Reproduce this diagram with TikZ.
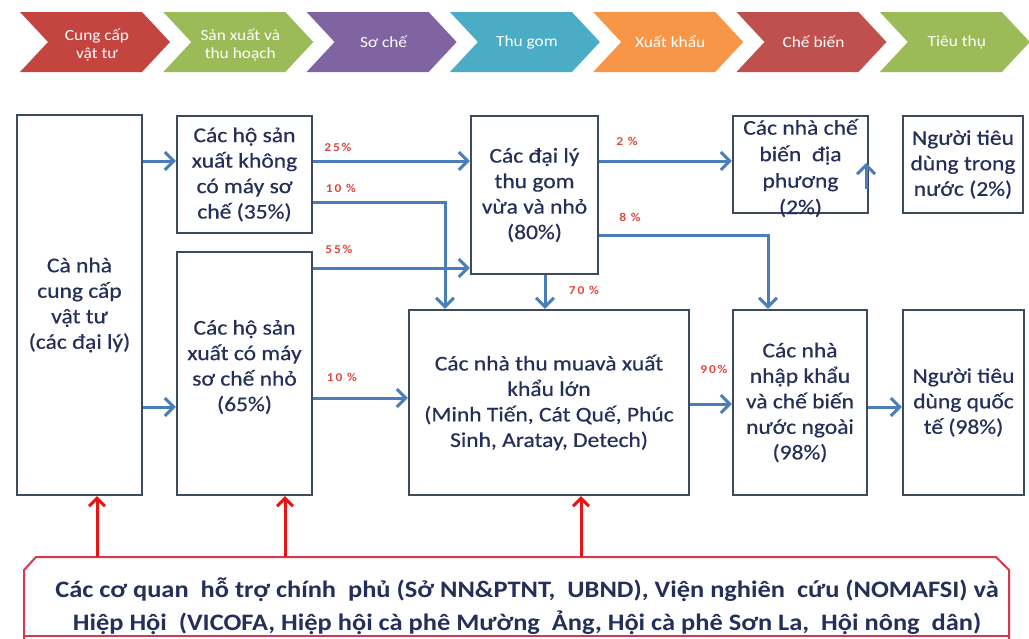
\documentclass[tikz,border=0pt]{standalone}
\usepackage{fontspec}
\setmainfont{Carlito}[FakeStretch=1.12]
\newfontfamily\boxfont{Carlito}[FakeStretch=1.12, FakeBold=0.5]
\newfontfamily\pctfont{Carlito}[FakeStretch=1.12, LetterSpace=15]
\usetikzlibrary{arrows.meta}
\definecolor{boxline}{HTML}{3E4A5E}
\definecolor{txt}{HTML}{25305A}
\definecolor{flowc}{HTML}{4A7EBB}
\definecolor{pct}{HTML}{E0473F}
\definecolor{supred}{HTML}{E81414}
\definecolor{supbox}{HTML}{D43A4C}
\definecolor{cRed}{HTML}{C4443F}
\definecolor{cGreen}{HTML}{9BBB59}
\definecolor{cPurple}{HTML}{8064A2}
\definecolor{cTeal}{HTML}{4BACC6}
\definecolor{cOrange}{HTML}{F79646}
\definecolor{cRed2}{HTML}{C0504D}
\tikzset{
  stagebox/.style={draw=boxline, line width=2.2pt, fill=white, text=txt, align=center,
    font=\boxfont\fontsize{21}{25.5}\selectfont, inner sep=0pt},
  chev/.style={text=white, align=center, font=\fontsize{15.5}{18}\selectfont, inner sep=0pt},
  pctlab/.style={text=pct, font=\pctfont\bfseries\fontsize{12}{12}\selectfont, inner sep=0pt},
  flow/.style={draw=flowc, line width=3pt, -{Straight Barb[length=9pt,width=18pt]}},
  redflow/.style={draw=supred, line width=3pt, -{Straight Barb[length=8pt,width=16pt]}},
  suptext/.style={text=txt, align=center, font=\bfseries\fontsize{23.6}{33}\selectfont, inner sep=0pt}
}
\begin{document}
\begin{tikzpicture}[x=1pt,y=-1pt]
\useasboundingbox (0,0) rectangle (1029,638);
\fill[white] (0,0) rectangle (1029,638);

% top chevrons
\foreach \i/\c/\t/\dy in {0/cRed/{Cung cấp\\vật tư}/45, 1/cGreen/{Sản xuất và\\thu hoạch}/45, 2/cPurple/{Sơ chế}/42,
  3/cTeal/{Thu gom}/42, 4/cOrange/{Xuất khẩu}/42, 5/cRed2/{Chế biến}/42, 6/cGreen/{Tiêu thụ}/42}{
  \pgfmathsetmacro{\xo}{20+143.3*\i}
  \fill[\c] (\xo,12) -- ++(122,0) -- ++(28,30) -- ++(-28,30) -- ++(-122,0) -- ++(28,-30) -- cycle;
  \node[chev] (ch\i) at (\xo+77,\dy) {\t};
}

% boxes
\node[stagebox, minimum width=125pt, minimum height=380pt] (A) at (79.5,305) {Cà nhà\\cung cấp\\vật tư\\(các đại lý)};
\node[stagebox, minimum width=135pt, minimum height=117pt] (B) at (244.5,174.5) {Các hộ sản\\xuất không\\có máy sơ\\chế (35\%)};
\node[stagebox, minimum width=135pt, minimum height=243pt] (C) at (244.5,373.5) {};
\node[stagebox, draw=none, fill=none] (Ct) at (244.5,367) {Các hộ sản\\xuất có máy\\sơ chế nhỏ\\(65\%)};
\node[stagebox, minimum width=127pt, minimum height=158pt] (D) at (534.5,195) {Các đại lý\\thu gom\\vừa và nhỏ\\(80\%)};
\node[stagebox, minimum width=135pt, minimum height=97pt] (E) at (800.5,164.5) {};
\node[stagebox, draw=none, fill=none, font=\boxfont\fontsize{21}{26.5}\selectfont] (Et) at (800.5,168) {Các nhà chế\\biến~~địa\\phương\\(2\%)};
\node[stagebox, minimum width=120pt, minimum height=97pt] (F) at (963,164.5) {Người tiêu\\dùng trong\\nước (2\%)};
\node[stagebox, minimum width=280pt, minimum height=185pt] (G) at (549,402.5) {Các nhà thu muavà xuất\\khẩu lớn\\(Minh Tiến, Cát Quế, Phúc\\Sinh, Aratay, Detech)};
\node[stagebox, minimum width=134pt, minimum height=185pt] (H) at (800,402.5) {Các nhà\\nhập khẩu\\và chế biến\\nước ngoài\\(98\%)};
\node[stagebox, minimum width=121pt, minimum height=185pt] (I) at (963.5,402.5) {Người tiêu\\dùng quốc\\tế (98\%)};

% blue flows
\draw[flow] (A.east |- 0,161) -- (B.west |- 0,161);
\draw[flow] (A.east |- 0,407) -- (C.west |- 0,407);
\draw[flow] (B.east |- 0,161) -- (D.west |- 0,161);
\draw[flow] (B.east |- 0,202) -| (G.north -| 445,0);
\draw[flow] (C.east |- 0,268) -- (D.west |- 0,268);
\draw[flow] (C.east |- 0,398) -- (G.west |- 0,398);
\draw[flow] (D.east |- 0,161) -- (E.west |- 0,161);
\draw[flow] (D.east |- 0,235) -| (H.north -| 768,0);
\draw[flow] (D.south -| 545,0) -- (G.north -| 545,0);
\draw[flow] (G.east |- 0,404) -- (H.west |- 0,404);
\draw[flow] (H.east |- 0,407) -- (I.west |- 0,407);
\coordinate (u0) at (866,189);
\coordinate (u1) at (866,163);
\draw[flow] (u0) -- (u1);

% percentages
\node[pctlab] (p25) at (338,147) {25\%};
\node[pctlab] (p10a) at (341,188) {10 \%};
\node[pctlab] (p55) at (339,249) {55\%};
\node[pctlab] (p10b) at (342,377) {10 \%};
\node[pctlab] (p2) at (627,141) {2 \%};
\node[pctlab] (p8) at (630,217) {8 \%};
\node[pctlab] (p70) at (584,290) {70 \%};
\node[pctlab] (p90) at (714,369) {90\%};

% support box
\draw[supbox, line width=2pt, fill=white] (24,645) -- (24,570) -- (36,557) -- (996,557) -- (1009,570) -- (1009,645);
\draw[supbox, line width=2pt] (24,636) -- (1009,636);
\coordinate (s1) at (97,557);
\coordinate (s2) at (285,557);
\coordinate (s3) at (581,557);
\node[suptext] (S) at (527,606) {Các cơ quan~ hỗ trợ chính~ phủ (Sở NN\&PTNT,~ UBND), Viện nghiên~ cứu (NOMAFSI) và\\Hiệp Hội~ (VICOFA, Hiệp hội cà phê Mường~ Ảng, Hội cà phê Sơn La,~ Hội nông~ dân)};
\draw[redflow] (s1) -- (A.south -| s1);
\draw[redflow] (s2) -- (C.south -| s2);
\draw[redflow] (s3) -- (G.south -| s3);
\end{tikzpicture}
\end{document}
